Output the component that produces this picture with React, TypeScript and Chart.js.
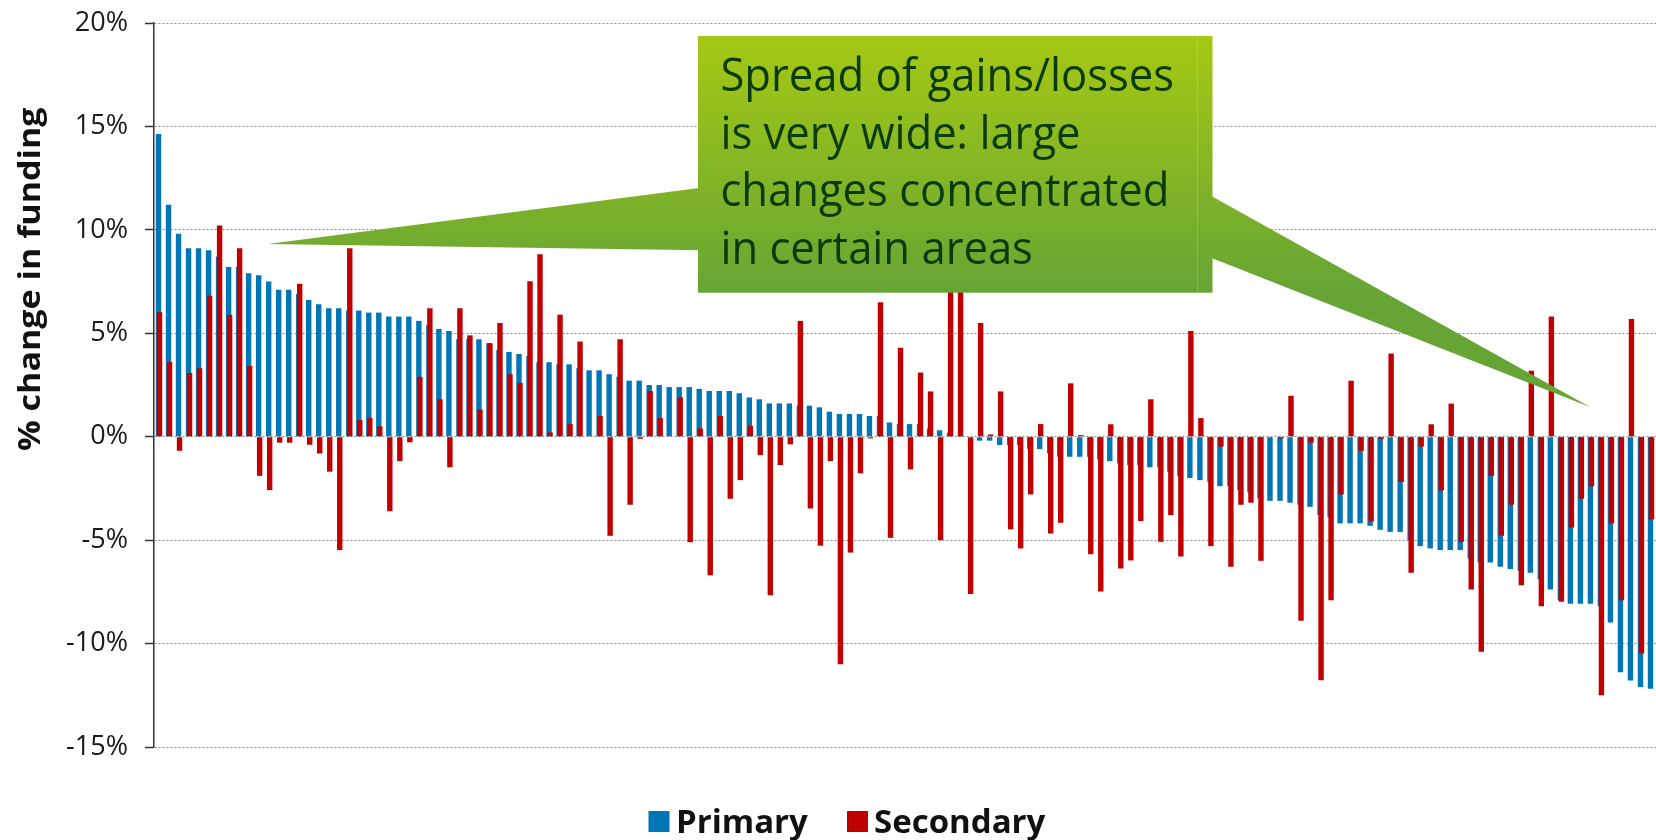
import React, { useEffect, useRef } from "react";
import { Chart, registerables } from "chart.js";

Chart.register(...registerables);

// ---- Data (percent change in funding), one entry per area, sorted by Primary ----
const primary: number[] = [
  14.63, 11.21, 9.81, 9.11, 9.11, 9.02, 8.71, 8.21, 8.21, 7.9,
  7.81, 7.5, 7.1, 7.1, 6.9, 6.61, 6.4, 6.21, 6.21, 6.1,
  6.1, 6.0, 6.0, 5.81, 5.81, 5.81, 5.6, 5.4, 5.21, 5.11,
  4.71, 4.71, 4.71, 4.52, 4.19, 4.1, 4.0, 3.9, 3.6, 3.6,
  3.5, 3.5, 3.31, 3.21, 3.21, 3.02, 2.9, 2.71, 2.71, 2.5,
  2.5, 2.4, 2.4, 2.4, 2.31, 2.21, 2.21, 2.21, 2.1, 1.9,
  1.81, 1.61, 1.61, 1.61, 1.5, 1.5, 1.42, 1.21, 1.1, 1.1,
  1.1, 1.0, 1.0, 0.69, 0.61, 0.61, 0.61, 0.4, 0.31, 0.19,
  0.05, 0.0, -0.19, -0.19, -0.4, -0.4, -0.4, -0.6, -0.6, -0.81,
  -0.97, -0.97, -0.97, -0.97, -1.08, -1.18, -1.29, -1.37, -1.37, -1.48,
  -1.48, -1.69, -1.89, -2.0, -2.1, -2.18, -2.39, -2.39, -2.58, -2.69,
  -2.98, -3.1, -3.1, -3.19, -3.29, -3.39, -3.79, -3.89, -4.19, -4.19,
  -4.19, -4.31, -4.5, -4.6, -4.6, -5.0, -5.29, -5.4, -5.48, -5.48,
  -5.48, -5.89, -6.08, -6.08, -6.29, -6.39, -6.48, -6.58, -6.89, -7.39,
  -7.9, -8.08, -8.08, -8.08, -8.19, -8.98, -11.39, -11.79, -12.1, -12.19,
];

const secondary: number[] = [
  6.02, 3.61, -0.68, 3.08, 3.31, 6.81, 10.21, 5.89, 9.11, 3.42,
  -1.89, -2.58, -0.29, -0.29, 7.4, -0.39, -0.81, -1.69, -5.48, 9.11,
  0.81, 0.9, 0.5, -3.6, -1.18, -0.27, 2.89, 6.21, 1.81, -1.48,
  6.21, 4.9, 1.31, 4.52, 5.5, 3.02, 2.6, 7.52, 8.82, 0.21,
  5.9, 0.61, 4.6, 0, 1.0, -4.79, 4.71, -3.29, -0.1, 2.21,
  0.9, 0, 1.9, -5.1, 0.4, -6.7, 1.0, -3.0, -2.1, 0.52,
  -0.89, -7.66, -1.37, -0.37, 5.6, -3.47, -5.27, -1.18, -11.0, -5.6,
  -1.77, -0.08, 6.5, -4.89, 4.3, -1.58, 3.1, 2.19, -5.0, 8.0,
  8.0, -7.6, 5.5, 0.11, 2.19, -4.48, -5.4, -2.79, 0.61, -4.68,
  -4.16, 2.58, 0.08, -5.68, -7.48, 0.6, -6.37, -5.98, -4.08, 1.81,
  -5.08, -3.79, -5.79, 5.11, 0.9, -5.29, -0.48, -6.29, -3.29, -3.19,
  -6.0, 0, -0.08, 1.98, -8.9, -0.29, -11.77, -7.9, -2.79, 2.71,
  -0.69, -4.1, -0.1, 4.02, -2.19, -6.58, -0.48, 0.6, -2.6, 1.6,
  -5.08, -7.39, -10.39, -1.89, -4.79, -3.29, -7.18, 3.19, -8.19, 5.81,
  -7.98, -4.39, -3.0, -2.4, -12.5, -4.19, -7.9, 5.69, -10.48, -4.0,
];

const categories: string[] = primary.map((_, i) => `Area ${i + 1}`);
const yTicks: number[] = [-15, -10, -5, 0, 5, 10, 15, 20];
const seriesNames: string[] = ["Primary", "Secondary"];
const yTitle = "% change in funding";
const calloutLines: string[] = [
  "Spread of gains/losses",
  "is very wide: large",
  "changes concentrated",
  "in certain areas",
];

// ---- Styles ----
const BLUE = "#0076B6";
const RED = "#C00000";
const FONT = "'Open Sans', 'Noto Sans', sans-serif";

const overlayPlugin = {
  id: "overlay",
  afterDraw(chart: any) {
    const ctx: CanvasRenderingContext2D = chart.ctx;
    ctx.save();

    // ---- Callout ----
    const bx1 = 698, by1 = 36, bx2 = 1212.5, by2 = 292.7;
    const grad = ctx.createLinearGradient(0, by1, 0, by2);
    grad.addColorStop(0, "#A5C814");
    grad.addColorStop(1, "#66A535");
    ctx.fillStyle = grad;
    // left pointer
    ctx.beginPath();
    ctx.moveTo(268, 244);
    ctx.lineTo(bx1 + 20, 185.5);
    ctx.lineTo(bx1 + 20, 250.5);
    ctx.closePath();
    ctx.fill();
    // right pointer
    ctx.beginPath();
    ctx.moveTo(1590, 407);
    ctx.lineTo(bx2 - 20, 185.5);
    ctx.lineTo(bx2 - 20, 250.5);
    ctx.closePath();
    ctx.fill();
    // box
    ctx.fillRect(bx1, by1, bx2 - bx1, by2 - by1);
    ctx.strokeStyle = "rgba(255,255,255,0.18)";
    ctx.lineWidth = 1;
    ctx.beginPath();
    ctx.moveTo(1197.5, by1);
    ctx.lineTo(1197.5, by2);
    ctx.stroke();

    // callout text
    ctx.fillStyle = "#0B3A0C";
    ctx.font = `45px ${FONT}`;
    ctx.textAlign = "left";
    ctx.textBaseline = "alphabetic";
    const w1 = ctx.measureText(calloutLines[0]).width;
    const sx = 453.6 / w1;
    const baselines = [91.4, 148.8, 206.2, 263.6];
    calloutLines.forEach((line, i) => {
      ctx.save();
      ctx.translate(720.4, baselines[i]);
      ctx.scale(sx, 1);
      ctx.fillText(line, 0, 0);
      ctx.restore();
    });

    // ---- Y axis title ----
    ctx.fillStyle = "#111";
    ctx.font = `bold 31px ${FONT}`;
    const tw = ctx.measureText(yTitle).width;
    ctx.save();
    ctx.translate(39.5, 279.2);
    ctx.rotate(-Math.PI / 2);
    ctx.scale(343.6 / tw, 1);
    ctx.textAlign = "center";
    ctx.fillText(yTitle, 0, 0);
    ctx.restore();

    // ---- Legend ----
    ctx.font = `bold 33px ${FONT}`;
    ctx.textAlign = "left";
    ctx.fillStyle = BLUE;
    ctx.fillRect(648.5, 811, 21, 21);
    ctx.fillStyle = RED;
    ctx.fillRect(847, 811, 21, 21);
    ctx.fillStyle = "#111";
    ctx.fillText(seriesNames[0], 676, 833);
    ctx.fillText(seriesNames[1], 874, 833);

    ctx.restore();
  },
};

export default function App() {
  const ref = useRef<HTMLCanvasElement>(null);

  useEffect(() => {
    const canvas = ref.current;
    if (!canvas) return;
    const chart = new Chart(canvas, {
      type: "bar",
      data: {
        labels: categories,
        datasets: [
          {
            label: seriesNames[0],
            data: primary,
            backgroundColor: BLUE,
            borderWidth: 0,
            order: 1,
            categoryPercentage: -0.2,
            barPercentage: -5.4,
            inflateAmount: 0,
          } as any,
          {
            label: seriesNames[1],
            data: secondary,
            backgroundColor: RED,
            borderWidth: 0,
            order: 0,
            categoryPercentage: -0.2,
            barPercentage: -5.4,
            inflateAmount: 0,
          } as any,
        ],
      },
      options: {
        responsive: false,
        animation: false,
        layout: { padding: { left: 0, right: 0, top: 23, bottom: 93 } },
        plugins: {
          legend: { display: false },
          tooltip: { enabled: false },
          title: { display: false },
        },
        scales: {
          x: {
            display: false,
            offset: true,
            grid: { display: false },
          },
          y: {
            min: -15,
            max: 20,
            afterBuildTicks: (scale: any) => {
              scale.ticks = yTicks.map((v) => ({ value: v }));
            },
            afterFit: (scale: any) => {
              scale.width = 154;
              scale.paddingTop = 0;
              scale.paddingBottom = 0;
            },
            ticks: {
              callback: (v: any) => `${v}%`,
              font: { family: FONT, size: 27 },
              color: "#1a1a1a",
              padding: 17,
            },
            grid: {
              color: "#8a8a8a",
              lineWidth: 1,
              tickLength: 9,
              tickColor: "#333",
              tickWidth: 1.5,
              tickBorderDash: [],
              drawTicks: true,
            },
            border: { display: true, color: "#333", width: 1.5, dash: [2, 2] },
          },
        },
      },
      plugins: [overlayPlugin],
    });
    return () => chart.destroy();
  }, []);

  return (
    <div
      style={{
        position: "absolute",
        left: 0,
        top: 0,
        width: 1656,
        height: 840,
        background: "#fff",
      }}
    >
      <canvas ref={ref} width={1656} height={840} style={{ display: "block" }} />
    </div>
  );
}
